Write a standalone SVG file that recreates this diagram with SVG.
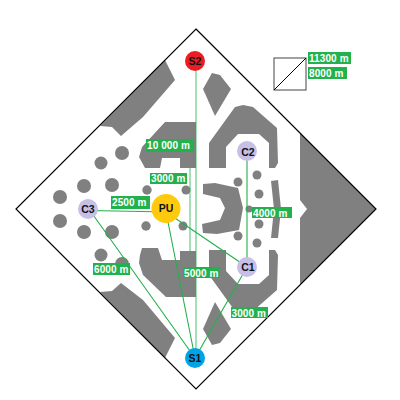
<svg xmlns="http://www.w3.org/2000/svg" width="400" height="400" viewBox="0 0 400 400">
<style>
.g{fill:#808080}
.l{fill:#22b14c}
.t{font:bold 10px "Liberation Sans",Arial,sans-serif;fill:#fff;letter-spacing:.1px}
.n{font:bold 10.5px "Liberation Sans",Arial,sans-serif;fill:#111;text-anchor:middle}
.c{stroke:#22b14c;stroke-width:1.1;fill:none}
.d{stroke:#22b14c;stroke-width:1.5;opacity:.55;fill:none}
</style>
<rect width="400" height="400" fill="#fff"/>
<g id="plan">
<path class="g" d="M165 60L175 80L143 117L121 136L112 127L100 126Z"/>
<path class="g" d="M100 292L112 291L121 283L143 300L175 338L165 358Z"/>
<path class="g" d="M165 122H196V168H180V158H162L160 168H145L139 157L142 147Z"/>
<path class="g" d="M142 248H158L162 260H180V251H196V297H166L143 275L139 263L140 255Z"/>
<path class="g" d="M209 168V143L235 107L243 105L253 107L277 128L278 163L275 168H269V143L259 134H238L226 147V168Z"/>
<path class="g" d="M209 250V275L235 311L243 313L253 311L277 290L278 255L275 250H269V275L259 284H238L226 271V250Z"/>
<path class="g" d="M212 73L220 75L231 89L215 116L203 89Z"/>
<path class="g" d="M212 345L220 343L231 329L215 302L203 329Z"/>
<path class="g" d="M203 184L215 183L238 188L243 208L239 230L217 234L203 233L202 224L220 220L225 208L220 198L203 194Z"/>
<path class="g" d="M300 133L376 209L300 285V218L307 209L300 200Z"/>
<path class="g" d="M271 181L278 180L281 209L278 238L271 238L274 209Z"/>
<g class="g">
<circle cx="122" cy="153" r="7"/><circle cx="101" cy="163" r="6.5"/><circle cx="84" cy="186" r="7"/><circle cx="112" cy="185" r="7"/><circle cx="60" cy="197" r="7"/><circle cx="147" cy="190" r="4.7"/><circle cx="186" cy="190" r="4.5"/>
<circle cx="60" cy="221" r="7"/><circle cx="84" cy="232" r="7"/><circle cx="112" cy="232" r="7"/><circle cx="101" cy="255" r="6.5"/><circle cx="122" cy="264" r="7"/><circle cx="146" cy="226" r="4.7"/><circle cx="183" cy="226" r="4.5"/>
<circle cx="238" cy="182" r="4.5"/><circle cx="257" cy="175" r="4.5"/><circle cx="259" cy="194" r="4.5"/><circle cx="249" cy="209" r="3.5"/><circle cx="259" cy="224" r="4.5"/><circle cx="257" cy="243" r="4.5"/><circle cx="238" cy="236" r="4.5"/>
</g>
</g>
<path d="M196 29L376 209L196 389L16 209Z" fill="none" stroke="#000" stroke-width="1.2"/>
<g id="connectors">
<path class="d" d="M196 61V358M190 168V251"/>
<path class="c" d="M247 151V267M90 210.500L166 212M166 212L247 267M166 212L195 358M90 210.500L195 358M247 267L195 358"/>
</g>
<g id="S2"><circle cx="195" cy="61" r="10" fill="#ed1c24"/><text class="n" x="195" y="65">S2</text></g>
<g id="S1"><circle cx="195" cy="358" r="10" fill="#00a2e8"/><text class="n" x="195" y="362">S1</text></g>
<g id="C2"><circle cx="247" cy="151" r="10" fill="#c8bfe7"/><text class="n" x="248" y="155.500">C2</text></g>
<g id="C1"><circle cx="247" cy="267" r="10" fill="#c8bfe7"/><text class="n" x="248" y="271">C1</text></g>
<g id="C3"><circle cx="88" cy="209" r="10" fill="#c8bfe7"/><text class="n" x="88" y="212.500">C3</text></g>
<g id="PU"><circle cx="166" cy="208.500" r="14.500" fill="#ffc90e"/><text class="n" x="166" y="212">PU</text></g>
<g id="labels">
<rect class="l" x="146" y="139" width="48" height="13"/><text class="t" x="147" y="149">10 000 m</text>
<rect class="l" x="150" y="173" width="37" height="11"/><text class="t" x="151" y="182">3000 m</text>
<rect class="l" x="111" y="196" width="39" height="13"/><text class="t" x="112" y="206">2500 m</text>
<rect class="l" x="93" y="263" width="37" height="12"/><text class="t" x="94" y="273">6000 m</text>
<rect class="l" x="183" y="267" width="37" height="11"/><text class="t" x="184" y="277">5000 m</text>
<rect class="l" x="252" y="207" width="40" height="11"/><text class="t" x="253" y="217">4000 m</text>
<rect class="l" x="231" y="307" width="37" height="11"/><text class="t" x="231.500" y="317">3000 m</text>
<rect class="l" x="308" y="52" width="43" height="12"/><text class="t" x="309" y="62">11300 m</text>
<rect class="l" x="308" y="67" width="39" height="12"/><text class="t" x="309" y="77">8000 m</text>
</g>
<g id="legend"><rect x="274" y="58" width="32" height="32" fill="#fff" stroke="#444"/><path d="M274 90L306 58" stroke="#000"/></g>
</svg>
